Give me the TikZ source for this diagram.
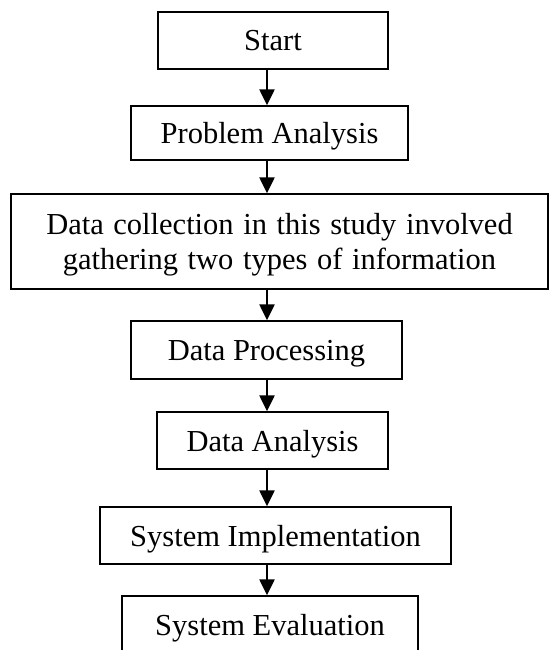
\documentclass[tikz,border=0pt]{standalone}
\usepackage{fontspec}
\setmainfont{Liberation Serif}
\usetikzlibrary{arrows.meta}
\begin{document}
\begin{tikzpicture}[x=1pt,y=-1pt,
  stepbox/.style={draw=black, line width=1.4pt, fill=white, inner sep=0pt,
    align=center, font=\fontsize{30.5}{35}\selectfont,
    text height=21pt, text depth=0pt},
  flow/.style={line width=2.4pt, -{Triangle[length=16pt,width=15pt]}}]
  \useasboundingbox (0,0) rectangle (550,650);
  % process steps
  \node[stepbox, minimum width=230pt, minimum height=57pt] (start) at (273,40.5) {Start};
  \node[stepbox, minimum width=277pt, minimum height=54pt] (prob) at (269.5,133) {Problem Analysis};
  \node[stepbox, minimum width=537pt, minimum height=95pt, text height=56pt] (coll) at (279.5,241.5)
    {\spaceskip=9.6pt Data collection in this study involved\\\spaceskip=9.6pt gathering two types of information};
  \node[stepbox, minimum width=271pt, minimum height=58pt] (proc) at (266.5,350) {Data Processing};
  \node[stepbox, minimum width=231pt, minimum height=57pt] (anal) at (272.5,440.5) {Data Analysis};
  \node[stepbox, minimum width=351pt, minimum height=57pt] (impl) at (275.5,535.5) {System Implementation};
  \node[stepbox, minimum width=296pt, minimum height=57pt] (eval) at (270,624.5) {System Evaluation};
  % common vertical line of the arrows
  \coordinate (axis) at (267,0);
  \draw[flow] (start.south -| axis) -- (prob.north -| axis);
  \draw[flow] (prob.south -| axis) -- (coll.north -| axis);
  \draw[flow] (coll.south -| axis) -- (proc.north -| axis);
  \draw[flow] (proc.south -| axis) -- (anal.north -| axis);
  \draw[flow] (anal.south -| axis) -- (impl.north -| axis);
  \draw[flow] (impl.south -| axis) -- (eval.north -| axis);
\end{tikzpicture}
\end{document}
